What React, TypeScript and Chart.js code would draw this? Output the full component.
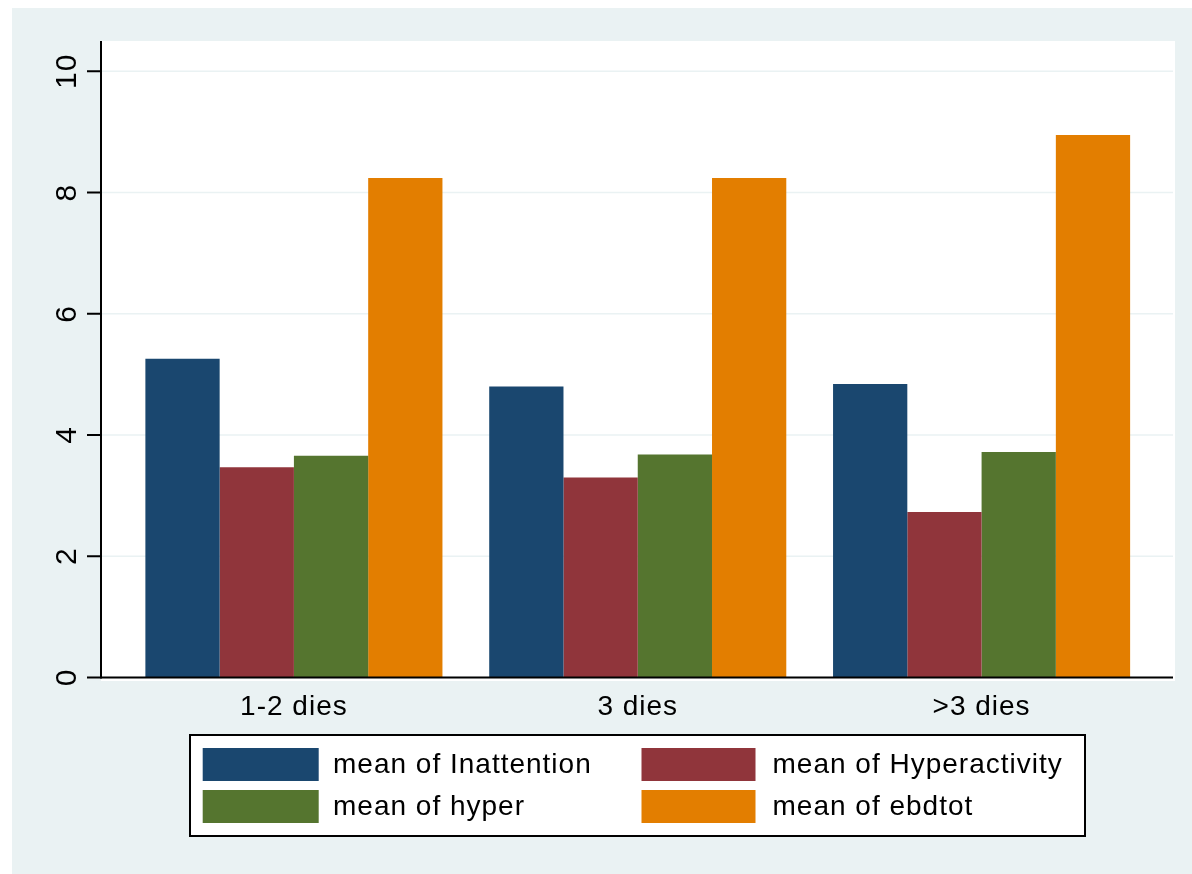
import React, { useEffect, useRef } from 'react';
import { Chart, registerables } from 'chart.js';

Chart.register(...registerables);

const categories = ['1-2 dies', '3 dies', '>3 dies'];
const inattention = [5.26, 4.8, 4.84];
const hyperactivity = [3.47, 3.3, 2.73];
const hyper = [3.66, 3.68, 3.72];
const ebdtot = [8.24, 8.24, 8.95];
const seriesLabels = ['mean of Inattention', 'mean of Hyperactivity', 'mean of hyper', 'mean of ebdtot'];
const seriesColors = ['#1A476F', '#90353B', '#55752F', '#E37E00'];
const yTicks = [0, 2, 4, 6, 8, 10];

const FONT = "'Liberation Sans', Arial, Helvetica, sans-serif";
const BG = '#EAF2F3';

const stataFrame = {
  id: 'stataFrame',
  beforeDraw(chart: any) {
    const ctx = chart.ctx;
    const a = chart.chartArea;
    const ys = chart.scales.y;
    ctx.save();
    ctx.fillStyle = '#ffffff';
    ctx.fillRect(0, 0, chart.width, chart.height);
    ctx.fillStyle = BG;
    ctx.fillRect(12, 8, chart.width - 12, chart.height - 8);
    const L = a.left - 21;
    const R = a.right + 21.5;
    const zero = ys.getPixelForValue(0);
    ctx.fillStyle = '#ffffff';
    ctx.fillRect(L, a.top, R - L, zero + 3.5 - a.top);
    ctx.strokeStyle = BG;
    ctx.lineWidth = 1.6;
    ys.ticks.forEach((t: any) => {
      const py = ys.getPixelForValue(t.value);
      ctx.beginPath();
      ctx.moveTo(L, py);
      ctx.lineTo(R - 2, py);
      ctx.stroke();
    });
    ctx.strokeStyle = '#000000';
    ctx.lineWidth = 2;
    ctx.beginPath();
    ctx.moveTo(L, a.top);
    ctx.lineTo(L, zero + 1);
    ys.ticks.forEach((t: any) => {
      const py = ys.getPixelForValue(t.value);
      ctx.moveTo(L - 14, py);
      ctx.lineTo(L, py);
    });
    ctx.stroke();
    ctx.restore();
    // Stata-like wide text spacing for the axis labels drawn next
    ctx.letterSpacing = '1px';
  },
  afterDatasetsDraw(chart: any) {
    const ctx = chart.ctx;
    const a = chart.chartArea;
    const zero = chart.scales.y.getPixelForValue(0);
    ctx.save();
    ctx.strokeStyle = '#000000';
    ctx.lineWidth = 2;
    ctx.beginPath();
    ctx.moveTo(a.left - 22, zero);
    ctx.lineTo(a.right + 19.5, zero);
    ctx.stroke();
    ctx.restore();
  },
  afterDraw(chart: any) {
    const ctx = chart.ctx;
    ctx.save();
    ctx.fillStyle = '#ffffff';
    ctx.fillRect(190, 735, 895, 101);
    ctx.strokeStyle = '#000000';
    ctx.lineWidth = 2;
    ctx.strokeRect(190, 735, 895, 101);
    const cols = [
      { sx: 202.7, sw: 116, tx: 333 },
      { sx: 641.5, sw: 114, tx: 772.5 },
    ];
    const rows = [748, 790];
    ctx.font = `28px ${FONT}`;
    ctx.letterSpacing = '1px';
    ctx.textBaseline = 'middle';
    ctx.textAlign = 'left';
    chart.data.datasets.forEach((ds: any, i: number) => {
      const c = cols[i % 2];
      const r = rows[Math.floor(i / 2)];
      ctx.fillStyle = ds.backgroundColor;
      ctx.fillRect(c.sx, r, c.sw, 33);
      ctx.fillStyle = '#000000';
      ctx.fillText(ds.label, c.tx, r + 17);
    });
    ctx.restore();
    ctx.letterSpacing = '0px';
  },
};

export default function App() {
  const ref = useRef<HTMLCanvasElement | null>(null);
  useEffect(() => {
    if (!ref.current) return;
    const series = [inattention, hyperactivity, hyper, ebdtot];
    const chart = new Chart(ref.current, {
      type: 'bar',
      data: {
        labels: categories,
        datasets: series.map((d, i) => ({
          label: seriesLabels[i],
          data: d,
          backgroundColor: seriesColors[i],
          borderWidth: 0,
          categoryPercentage: 0.864,
          barPercentage: 1,
        })),
      },
      options: {
        responsive: false,
        animation: false,
        devicePixelRatio: 1,
        layout: { padding: { left: 42, right: 38.5, top: 41, bottom: 136.5 } },
        plugins: { legend: { display: false }, tooltip: { enabled: false }, title: { display: false } },
        scales: {
          x: {
            type: 'category',
            offset: true,
            grid: { display: false, drawTicks: false },
            border: { display: false },
            ticks: {
              color: '#000000',
              font: { family: FONT, size: 28 },
              padding: 13,
              minRotation: 0,
              maxRotation: 0,
              autoSkip: false,
            },
            afterFit: (s: any) => {
              s.height = 60;
              s.paddingLeft = 0;
              s.paddingRight = 0;
            },
          },
          y: {
            type: 'linear',
            min: 0,
            max: 10.5,
            grid: { display: false, drawTicks: false },
            border: { display: false },
            afterBuildTicks: (s: any) => {
              s.ticks = yTicks.map((v) => ({ value: v }));
            },
            ticks: {
              color: '#000000',
              font: { family: FONT, size: 30 },
              padding: 38,
              minRotation: 90,
              maxRotation: 90,
              crossAlign: 'center',
            },
            afterFit: (s: any) => {
              s.width = 80;
              s.paddingTop = 0;
              s.paddingBottom = 0;
            },
          },
        },
      },
      plugins: [stataFrame],
    } as any);
    return () => chart.destroy();
  }, []);
  return (
    <div style={{ position: 'absolute', left: 0, top: 0, width: 1192, height: 874 }}>
      <canvas ref={ref} width={1192} height={874} style={{ display: 'block' }} />
    </div>
  );
}
